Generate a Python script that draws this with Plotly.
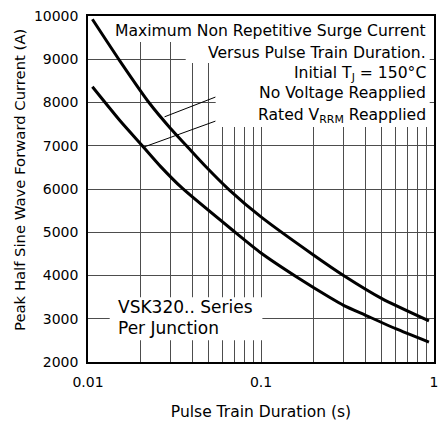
import plotly.graph_objects as go

# Curve data
no_voltage_x = [0.0106, 0.0152, 0.0225, 0.03, 0.0371, 0.0479, 0.0657, 0.1, 0.2, 0.3, 0.5, 0.935]
no_voltage_y = [9924, 8975, 8000, 7400, 7000, 6520, 5975, 5354, 4480, 4000, 3465, 2950]

rated_vrrm_x = [0.0106, 0.0155, 0.0206, 0.0264, 0.0352, 0.0686, 0.1, 0.166, 0.2475, 0.3, 0.4, 0.6, 0.935]
rated_vrrm_y = [8363, 7553, 7000, 6512, 6012, 5046, 4520, 3930, 3502, 3310, 3085, 2771, 2461]

x_tickvals = [0.01, 0.1, 1]
x_ticktext = ["0.01", "0.1", "1"]
x_minor = [m * 10.0 ** e for e in (-2, -1) for m in range(2, 10)]
y_tickvals = [2000, 3000, 4000, 5000, 6000, 7000, 8000, 9000, 10000]
y_ticktext = [str(v) for v in y_tickvals]

FONT = "DejaVu Sans"
GRID = "#4d4d4d"

fig = go.Figure()
for xs, ys in ((no_voltage_x, no_voltage_y), (rated_vrrm_x, rated_vrrm_y)):
    fig.add_trace(go.Scatter(x=xs, y=ys, mode="lines",
                             line=dict(color="black", width=3, shape="spline", smoothing=0.6),
                             showlegend=False, hoverinfo="skip"))

# white label boxes (paper coords)
boxes = [
    (0.0685, 0.9876, 0.9248, 1.0),
    (0.2824, 0.9876, 0.864, 0.9248),
    (0.369, 0.9876, 0.679, 0.864),
    (0.0627, 0.504, 0.0628, 0.187),
]
shapes = []
for x0, x1, y0, y1 in boxes:
    shapes.append(dict(type="rect", xref="paper", yref="paper", x0=x0, x1=x1, y0=y0, y1=y1,
                       fillcolor="white", line=dict(width=0), layer="above"))
# leader lines (curve point -> label)
shapes.append(dict(type="line", xref="x", yref="y", x0=0.0277, y0=7669, x1=0.0545, y1=8125,
                   line=dict(color="black", width=1), layer="above"))
shapes.append(dict(type="line", xref="x", yref="y", x0=0.0212, y0=6975, x1=0.0545, y1=7569,
                   line=dict(color="black", width=1), layer="above"))

ann_font = dict(family=FONT, size=15.6, color="black")
annotations = []
right_lines = [
    ("Maximum Non Repetitive Surge Current", 0.957),
    ("Versus Pulse Train Duration.", 0.893),
    ("Initial T<sub>J</sub> = 150°C", 0.832),
    ("No Voltage Reapplied", 0.777),
    ("Rated V<sub>RRM</sub> Reapplied", 0.71),
]
for txt, yp in right_lines:
    annotations.append(dict(text=txt, xref="paper", yref="paper", x=0.984, y=yp,
                            xanchor="right", yanchor="middle", showarrow=False, font=ann_font))
bl_font = dict(family=FONT, size=17, color="black")
for txt, yp in (("VSK320.. Series", 0.159), ("Per Junction", 0.0975)):
    annotations.append(dict(text=txt, xref="paper", yref="paper", x=0.082, y=yp,
                            xanchor="left", yanchor="middle", showarrow=False, font=bl_font))
# y-axis title
annotations.append(dict(text="Peak Half Sine Wave Forward Current (A)", xref="paper", yref="paper",
                        x=-0.2, y=0.5256, xanchor="center", yanchor="middle", textangle=-90,
                        showarrow=False, font=dict(family=FONT, size=14.8, color="black")))

fig.update_layout(
    width=440, height=425,
    margin=dict(l=88, r=6, t=16, b=63.3, autoexpand=False),
    paper_bgcolor="white", plot_bgcolor="white",
    font=dict(family=FONT, size=14, color="black"),
    shapes=shapes, annotations=annotations,
    xaxis=dict(type="log", range=[-2, 0], tickvals=x_tickvals, ticktext=x_ticktext,
               automargin=False, ticklabeloverflow="allow",
               showgrid=True, gridcolor=GRID, gridwidth=1,
               minor=dict(tickvals=x_minor, showgrid=True, gridcolor=GRID, gridwidth=1, ticks=""),
               showline=True, linecolor="black", linewidth=1.5, mirror=True,
               ticks="outside", ticklen=6, tickcolor="rgba(0,0,0,0)",
               tickfont=dict(family=FONT, size=14),
               title=dict(text="Pulse Train Duration (s)", font=dict(family=FONT, size=15.5), standoff=18)),
    yaxis=dict(range=[2000, 10000], tickvals=y_tickvals, ticktext=y_ticktext,
               automargin=False, ticklabeloverflow="allow",
               showgrid=True, gridcolor=GRID, gridwidth=1,
               showline=True, linecolor="black", linewidth=1.5, mirror=True,
               ticks="outside", ticklen=5, tickcolor="rgba(0,0,0,0)",
               tickfont=dict(family=FONT, size=14)),
)

fig.write_html("out.html",
               config={"displayModeBar": False},
               post_script="document.documentElement.style.margin='0';"
                           "document.body.style.margin='0';"
                           "document.body.style.overflow='hidden';")
